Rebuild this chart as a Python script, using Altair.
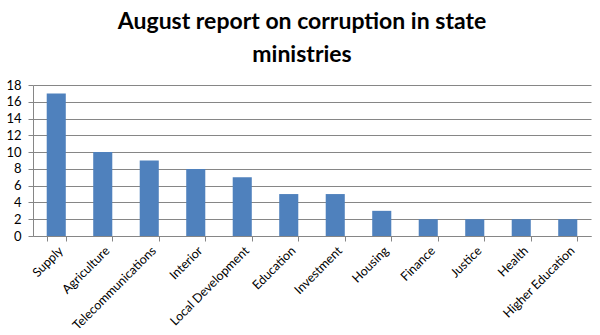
import altair as alt
import pandas as pd

categories = ["Supply", "Agriculture", "Telecommunications", "Interior", "Local Development",
              "Education", "Investment", "Housing", "Finance", "Justice", "Health", "Higher Education"]
values = [17, 10, 9, 8, 7, 5, 5, 3, 2, 2, 2, 2]

df = pd.DataFrame({"ministry": categories, "count": values})

FONT = "Lato"

chart = alt.Chart(df).mark_bar(color="#4F81BD").encode(
    x=alt.X("ministry:N", sort=categories, title=None,
            scale=alt.Scale(paddingInner=0.59, paddingOuter=0.295),
            axis=alt.Axis(labelAngle=-45, labelAlign="right", labelBaseline="top",
                          labelFont=FONT, labelFontSize=12.5, labelColor="#000000",
                          tickBand="extent", tickColor="#868686", tickSize=5,
                          domainColor="#868686", labelPadding=3, labelOverlap=False,
                          labelBound=False)),
    y=alt.Y("count:Q", title=None,
            scale=alt.Scale(domain=[0, 18], nice=False),
            axis=alt.Axis(values=list(range(0, 19, 2)), grid=True, gridColor="#868686",
                          tickColor="#868686", tickSize=5, domainColor="#868686",
                          labelFont=FONT, labelFontSize=13, labelColor="#000000",
                          labelPadding=7)),
).properties(
    width=558, height=151,
    title=alt.TitleParams(["August report on corruption in state", "ministries"],
                          font=FONT, fontSize=23, fontWeight="bold", color="#000000",
                          anchor="middle", dx=-10, offset=12, lineHeight=33),
    autosize=alt.AutoSizeParams(type="none"),
    padding={"left": 33, "top": 85, "right": 9, "bottom": 99},
).configure_view(stroke=None)

chart.save("out.html", embed_options={"renderer": "svg", "actions": False})
